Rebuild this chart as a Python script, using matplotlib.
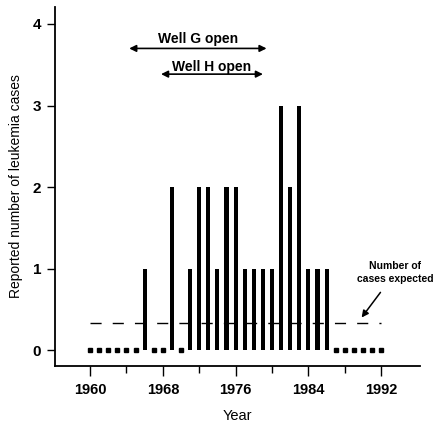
import matplotlib.pyplot as plt
import numpy as np

years = list(range(1960, 1993))
cases = [0, 0, 0, 0, 0, 0, 1, 0, 0, 2, 0, 1, 2, 2, 1, 2, 2, 1, 1, 1, 1,
         3, 2, 3, 1, 1, 1, 0, 0, 0, 0, 0, 0]
expected = 0.335
well_g = (1964.3, 1979.4)
well_h = (1967.8, 1979.0)
xticks = [1960, 1968, 1976, 1984, 1992]
xminor = [1964, 1972, 1980, 1988]
yticks = [0, 1, 2, 3, 4]

plt.rcParams['font.family'] = ['Liberation Sans', 'DejaVu Sans']
plt.rcParams['font.weight'] = 'bold'

fig = plt.figure(figsize=(4.33, 4.25), dpi=100)
ax = fig.add_axes([0.127, 0.139, 0.843, 0.845])

yrs = np.array(years)
vals = np.array(cases)
pos = vals > 0
ax.bar(yrs[pos], vals[pos], width=0.45, color='black')
ax.plot(yrs[~pos], vals[~pos], 's', color='black', markersize=2.2, linestyle='none')

ax.plot([years[0], years[-1]], [expected, expected], color='black', lw=1.0,
        dashes=(8, 8))

ax.annotate('', xy=(well_g[0], 3.70), xytext=(well_g[1], 3.70),
            arrowprops=dict(arrowstyle='<|-|>', color='black', lw=1.2,
                            mutation_scale=10, shrinkA=0, shrinkB=0))
ax.text(sum(well_g) / 2, 3.82, 'Well G open', ha='center', va='center', fontsize=10)
ax.annotate('', xy=(well_h[0], 3.385), xytext=(well_h[1], 3.385),
            arrowprops=dict(arrowstyle='<|-|>', color='black', lw=1.2,
                            mutation_scale=10, shrinkA=0, shrinkB=0))
ax.text(1973.4, 3.47, 'Well H open', ha='center', va='center', fontsize=10)

ax.annotate('Number of\ncases expected', xy=(1989.85, 0.403), xytext=(1993.55, 0.953),
            ha='center', va='center', fontsize=7.5, linespacing=1.35,
            arrowprops=dict(arrowstyle='-|>', color='black', lw=1.1,
                            mutation_scale=10, shrinkA=5, shrinkB=0))

ax.set_xlim(1956.14, 1996.27)
ax.set_ylim(-0.19, 4.21)
ax.set_xticks(xticks)
ax.set_xticks(xminor, minor=True)
ax.set_yticks(yticks)
ax.tick_params(axis='x', which='major', length=7, width=1, pad=5, labelsize=10.5)
ax.tick_params(axis='x', which='minor', length=5, width=1)
ax.tick_params(axis='y', length=6, width=1, pad=4, labelsize=11)
for s in ['top', 'right']:
    ax.spines[s].set_visible(False)
for s in ['left', 'bottom']:
    ax.spines[s].set_linewidth(1.3)

ax.set_xlabel('Year', fontsize=10.5, labelpad=9)
ax.set_ylabel('Reported number of leukemia cases', fontsize=10, labelpad=7)

fig.savefig('out.png', dpi=100)
